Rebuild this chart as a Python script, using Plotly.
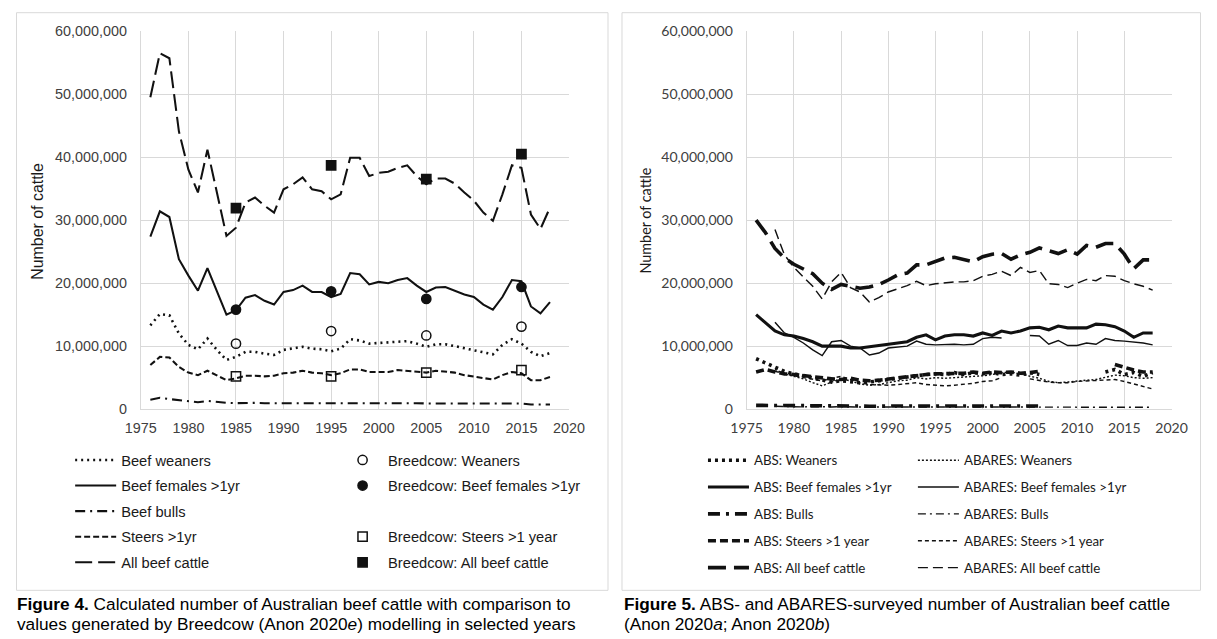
import plotly.graph_objects as go

# ---------------- data (millions of head) ----------------
years = list(range(1976, 2019))

# Figure 4 (calculated)
calc_weaners = [13.3, 15.1, 14.9, 12.0, 10.2, 9.5, 11.2, 9.4, 7.8, 8.3,
                9.1, 9.1, 8.8, 8.6, 9.4, 9.6, 9.9, 9.6, 9.5, 9.2,
                9.6, 11.1, 10.9, 10.4, 10.5, 10.6, 10.8, 10.8, 10.4, 9.9,
                10.3, 10.3, 10.0, 9.7, 9.4, 9.0, 8.7, 10.2, 11.1, 10.4,
                9.1, 8.4, 8.9]
calc_females = [27.4, 31.4, 30.5, 23.8, 21.2, 18.8, 22.4, 18.8, 15.0, 15.7,
                17.7, 18.1, 17.2, 16.6, 18.6, 18.9, 19.6, 18.6, 18.6, 17.8,
                18.3, 21.6, 21.4, 19.8, 20.2, 20.0, 20.5, 20.8, 19.6, 18.6,
                19.3, 19.4, 18.8, 18.2, 17.8, 16.6, 15.8, 17.8, 20.5, 20.3,
                16.3, 15.2, 17.0]
calc_bulls = [1.5, 1.8, 1.6, 1.4, 1.2, 1.1, 1.3, 1.1, 1.0, 0.95,
              1.0, 1.0, 0.95, 0.95, 1.0, 1.0, 1.05, 1.0, 1.0, 0.95,
              1.0, 1.05, 1.05, 1.0, 1.0, 1.0, 1.05, 1.0, 0.95, 0.9,
              0.9, 0.9, 0.9, 0.85, 0.85, 0.8, 0.8, 0.85, 0.9, 0.9,
              0.75, 0.7, 0.75]
calc_steers = [7.0, 8.3, 8.2, 6.7, 5.8, 5.4, 6.1, 5.3, 4.6, 4.9,
               5.3, 5.3, 5.2, 5.3, 5.7, 5.8, 6.1, 5.8, 5.7, 5.4,
               5.7, 6.3, 6.3, 5.9, 5.9, 5.9, 6.2, 6.1, 5.9, 5.8,
               6.1, 5.9, 5.8, 5.4, 5.2, 4.9, 4.7, 5.4, 5.9, 5.7,
               4.6, 4.6, 5.1]
calc_all = [49.5, 56.5, 55.7, 44.1, 38.0, 34.4, 41.2, 34.4, 27.5, 28.8,
            32.8, 33.6, 32.3, 31.2, 34.9, 35.7, 36.8, 34.9, 34.6, 33.3,
            34.1, 39.9, 39.9, 37.0, 37.5, 37.7, 38.3, 38.7, 37.0, 35.7,
            36.6, 36.6, 35.8, 34.4, 33.1, 31.2, 29.9, 34.1, 38.7, 38.3,
            30.9, 28.6, 32.0]

bc_years = [1985, 1995, 2005, 2015]
bc_weaners = [10.4, 12.4, 11.7, 13.1]
bc_females = [15.8, 18.7, 17.5, 19.4]
bc_steers = [5.2, 5.2, 5.8, 6.2]
bc_all = [31.9, 38.7, 36.5, 40.5]

# Figure 5 (surveyed)
N = None
abs_weaners = [8.0, 7.3, 6.7, 6.0, 5.6, 5.3, 5.0, 4.7, 4.3, 4.5,
               4.3, 4.2, 4.3, 4.5, 4.8, 5.0, 5.2, 5.4, 5.5, 5.6,
               5.5, 5.8, 5.5, 5.8, 5.6, 5.8, 5.5, 5.6, 5.4, 5.8,
               5.5, N, N, N, N, N, N, 5.9, 6.3, 5.5,
               5.8, 5.2, 5.8]
abs_females = [15.0, 13.7, 12.4, 11.8, 11.6, 11.2, 10.7, 10.0, 10.0, 10.0,
               9.7, 9.7, 9.9, 10.1, 10.4, 10.6, 10.7, 11.4, 11.8, 11.0,
               11.6, 11.8, 11.8, 11.6, 12.1, 11.7, 12.4, 12.1, 12.4, 12.9,
               13.0, 12.6, 13.2, 12.9, 12.9, 12.9, 13.5, 13.4, 13.1, 12.4,
               11.4, 12.1, 12.1]
abs_bulls = [0.6, 0.6, 0.5, 0.5, 0.5, 0.6, 0.5, 0.5, 0.5, 0.5,
             0.5, 0.5, 0.45, 0.5, 0.55, 0.5, 0.5, 0.5, 0.5, 0.55,
             0.5, 0.5, 0.5, 0.5, 0.5, 0.6, 0.5, 0.5, 0.55, 0.55,
             0.5, N, N, N, N, N, N, N, N, N,
             N, N, N]
abs_steers = [5.9, 6.3, 5.9, 5.6, 5.5, 5.3, 5.2, 5.0, 4.8, 4.7,
              4.9, 4.6, 4.5, 4.6, 4.8, 5.0, 5.2, 5.4, 5.5, 5.6,
              5.6, 5.7, 5.7, 5.9, 5.7, 5.9, 5.8, 5.9, 5.7, 5.8,
              6.0, N, N, N, N, N, N, N, 7.1, 6.6,
              6.2, 5.9, 5.9]
abs_all = [30.0, 28.0, 25.5, 24.0, 23.0, 22.3, 21.5, 20.0, 19.0, 19.8,
           19.5, 19.2, 19.4, 19.8, 20.5, 21.3, 21.6, 22.9, 22.9, 23.4,
           24.0, 24.1, 23.7, 23.4, 24.2, 24.6, 24.7, 23.8, 24.5, 24.9,
           25.6, 25.2, 24.7, 25.3, 24.6, 26.0, 25.7, 26.3, 26.3, 24.6,
           22.3, 23.7, 23.7]

abares_weaners = [N, N, 6.3, 5.6, 5.2, 4.8, 4.2, 3.7, 4.3, 4.8,
                  4.5, 4.0, 3.8, 3.9, 4.2, 4.5, 4.6, 5.0, 4.8, 5.0,
                  4.9, 5.0, 5.0, 5.1, 5.3, 5.5, 5.8, 5.9, 5.6, 5.3,
                  4.9, 4.4, 4.2, 4.3, 4.5, 4.6, 4.7, 5.0, 5.4, 5.3,
                  5.0, 4.9, 5.0]
abares_females = [N, N, 13.8, 12.1, 11.4, 10.5, 9.4, 8.5, 10.7, 10.9,
                  10.0, 9.7, 8.6, 8.9, 9.7, 9.8, 10.0, 10.8, 10.3, 10.2,
                  10.3, 10.3, 10.2, 10.3, 11.2, 11.4, 11.3, N, N, 11.7,
                  11.6, 10.3, 10.9, 10.1, 10.1, 10.5, 10.3, 11.2, 10.9, 10.8,
                  10.7, 10.5, 10.2]
abares_bulls = [N, N, 0.45, 0.4, 0.4, 0.35, 0.4, 0.35, 0.35, 0.4,
                0.35, 0.35, 0.3, 0.35, 0.4, 0.35, 0.35, 0.35, 0.35, 0.4,
                0.35, 0.35, 0.35, 0.35, 0.4, 0.4, 0.35, 0.35, 0.4, 0.35,
                0.3, 0.3, 0.3, 0.3, 0.3, 0.3, 0.3, 0.3, 0.3, 0.3,
                0.3, 0.3, 0.3]
abares_steers = [N, N, 6.0, 5.6, 5.3, 5.0, 4.8, 4.5, 4.9, 5.2,
                 4.7, 4.2, 3.9, 3.8, 3.8, 3.9, 4.0, 4.2, 3.9, 3.8,
                 3.7, 3.8, 3.9, 4.1, 4.4, 4.5, 5.0, N, N, 4.8,
                 4.5, 4.3, 4.2, 4.2, 4.4, 4.5, 4.6, 4.6, 4.7, 4.4,
                 4.0, 3.6, 3.2]
abares_all = [N, N, 28.5, 24.5, 22.5, 21.0, 19.5, 17.5, 20.2, 21.7,
              19.3, 18.6, 17.0, 17.7, 18.6, 19.1, 19.6, 20.3, 19.6, 19.9,
              20.1, 20.2, 20.2, 20.4, 21.1, 21.4, 21.9, 21.2, 22.5, 21.7,
              22.0, 19.9, 19.8, 19.3, 20.0, 20.6, 20.4, 21.2, 21.1, 20.4,
              19.9, 19.5, 18.9]

x_ticks = [1975, 1980, 1985, 1990, 1995, 2000, 2005, 2010, 2015, 2020]
y_ticks = [0, 10e6, 20e6, 30e6, 40e6, 50e6, 60e6]


def heads(v):
    return [None if a is None else a * 1e6 for a in v]


# ---------------- figure ----------------
W, H = 1217, 639
K = 1.0267          # layout scale about the page centre
ARIAL = "Liberation Sans, Arial, sans-serif"
CALI = "Lato, Open Sans, sans-serif"
INK = "#111111"

fig = go.Figure()


def tx(p):
    return W / 2 + (p - W / 2) * K


def ty(p):
    return H / 2 + (p - H / 2) * K


def px_x(p, clamp=True):
    v = tx(p)
    if clamp:
        v = min(max(v, 0.5), W - 0.5)
    return v / W


def px_y(p):
    return 1 - min(max(ty(p), 0.5), H - 0.5) / H


def line_trace(y, name, dash, width, xa, ya, legend, group):
    return go.Scatter(x=years, y=heads(y), name=name, mode="lines",
                      line=dict(color=INK, width=width * K, dash=dash),
                      connectgaps=False, xaxis=xa, yaxis=ya,
                      legend=legend, legendgroup=group, hoverinfo="skip")


def marker_trace(y, name, symbol, legend, group):
    return go.Scatter(x=bc_years, y=heads(y), name=name, mode="markers",
                      marker=dict(symbol=symbol, size=9 * K, color=INK,
                                  line=dict(color=INK, width=1.5)),
                      xaxis="x", yaxis="y", legend=legend,
                      legendgroup=group, hoverinfo="skip")


# left panel lines
fig.add_trace(line_trace(calc_weaners, "Beef weaners", "2px,4px", 2.5, "x", "y", "legend", "a1"))
fig.add_trace(line_trace(calc_females, "Beef females >1yr", "solid", 2, "x", "y", "legend", "a2"))
fig.add_trace(line_trace(calc_bulls, "Beef bulls", "10px,5px,2px,5px", 2, "x", "y", "legend", "a3"))
fig.add_trace(line_trace(calc_steers, "Steers >1yr", "6px,3px", 2, "x", "y", "legend", "a4"))
fig.add_trace(line_trace(calc_all, "All beef cattle", "17px,6px", 2, "x", "y", "legend", "a5"))

# Breedcow markers
fig.add_trace(marker_trace(bc_weaners, "Breedcow: Weaners", "circle-open", "legend2", "b1"))
fig.add_trace(marker_trace(bc_females, "Breedcow: Beef females >1yr", "circle", "legend2", "b2"))
fig.add_trace(go.Scatter(x=[None], y=[None], name=" ", mode="lines",
                         line=dict(width=0, color="rgba(0,0,0,0)"),
                         xaxis="x", yaxis="y",
                         legend="legend2", legendgroup="b3", hoverinfo="skip"))
fig.add_trace(marker_trace(bc_steers, "Breedcow: Steers >1 year", "square-open", "legend2", "b4"))
fig.add_trace(marker_trace(bc_all, "Breedcow: All beef cattle", "square", "legend2", "b5"))

# right panel
fig.add_trace(line_trace(abs_weaners, "ABS: Weaners", "3px,4px", 3.5, "x2", "y2", "legend3", "c1"))
fig.add_trace(line_trace(abs_females, "ABS: Beef females >1yr", "solid", 3, "x2", "y2", "legend3", "c2"))
fig.add_trace(line_trace(abs_bulls, "ABS: Bulls", "12px,6px,3px,6px", 3.5, "x2", "y2", "legend3", "c3"))
fig.add_trace(line_trace(abs_steers, "ABS: Steers >1 year", "8px,4px", 3.5, "x2", "y2", "legend3", "c4"))
fig.add_trace(line_trace(abs_all, "ABS: All beef cattle", "18px,8px", 3.5, "x2", "y2", "legend3", "c5"))

fig.add_trace(line_trace(abares_weaners, "ABARES: Weaners", "2px,2px", 1.4, "x2", "y2", "legend4", "d1"))
fig.add_trace(line_trace(abares_females, "ABARES: Beef females >1yr", "solid", 1.4, "x2", "y2", "legend4", "d2"))
fig.add_trace(line_trace(abares_bulls, "ABARES: Bulls", "8px,4px,2px,4px", 1.4, "x2", "y2", "legend4", "d3"))
fig.add_trace(line_trace(abares_steers, "ABARES: Steers >1 year", "4px,3px", 1.4, "x2", "y2", "legend4", "d4"))
fig.add_trace(line_trace(abares_all, "ABARES: All beef cattle", "10px,5px", 1.4, "x2", "y2", "legend4", "d5"))

GRID = "#d9d9d9"
ydom = [px_y(408.7), px_y(30.5)]


def xaxis_cfg(dom, anchor, fam, size):
    return dict(domain=dom, anchor=anchor, range=[1975, 2020], tickvals=x_ticks,
                showgrid=True, gridcolor=GRID, gridwidth=1, zeroline=False,
                showline=True, linecolor=GRID, linewidth=1, ticks="",
                tickfont=dict(family=fam, size=size * K, color="#404040"),
                ticklabelstandoff=round(6 * K), fixedrange=True)


def yaxis_cfg(anchor, fam, size):
    return dict(domain=ydom, anchor=anchor, range=[0, 60e6], tickvals=y_ticks,
                tickformat=",.0f", showgrid=True, gridcolor=GRID, gridwidth=1,
                zeroline=False, showline=True, linecolor=GRID, linewidth=1,
                ticks="", tickfont=dict(family=fam, size=size * K, color="#404040"),
                ticklabelstandoff=round(10 * K), fixedrange=True)


def legend_cfg(x, ytop, fam, size, gap):
    return dict(x=px_x(x), y=px_y(ytop), xanchor="left", yanchor="top",
                orientation="v", bgcolor="rgba(0,0,0,0)", borderwidth=0,
                font=dict(family=fam, size=size * K, color="#1a1a1a"),
                itemwidth=41, tracegroupgap=gap, traceorder="grouped")


fig.update_layout(
    width=W, height=H, autosize=False,
    margin=dict(l=0, r=0, t=0, b=0),
    paper_bgcolor="white", plot_bgcolor="white",
    xaxis=xaxis_cfg([px_x(140.7), px_x(569)], "y", ARIAL, 14),
    yaxis=yaxis_cfg("x", ARIAL, 14),
    xaxis2=xaxis_cfg([px_x(746.7), px_x(1171.7)], "y2", CALI, 13.7),
    yaxis2=yaxis_cfg("x2", CALI, 13.7),
    legend=legend_cfg(70, 443.5, ARIAL, 14.3, 3.5),
    legend2=legend_cfg(337, 443.5, ARIAL, 14.3, 3.5),
    legend3=legend_cfg(703, 444.6, CALI, 13, 6.5),
    legend4=legend_cfg(913, 444.6, CALI, 13, 6.5),
    showlegend=True,
)

# panel frames
fig.add_shape(type="rect", xref="paper", yref="paper",
              x0=px_x(14), x1=px_x(608), y0=px_y(590), y1=px_y(12),
              line=dict(color=GRID, width=1), layer="below")
fig.add_shape(type="rect", xref="paper", yref="paper",
              x0=px_x(622), x1=px_x(1207), y0=px_y(590), y1=px_y(12),
              line=dict(color=GRID, width=1), layer="below")

# axis titles
fig.add_annotation(text="Number of cattle", xref="paper", yref="paper",
                   x=px_x(37), y=px_y(221), textangle=-90, showarrow=False,
                   xanchor="center", yanchor="middle",
                   font=dict(family=ARIAL, size=15.5 * K, color="#1a1a1a"))
fig.add_annotation(text="Number of cattle", xref="paper", yref="paper",
                   x=px_x(646), y=px_y(220), textangle=-90, showarrow=False,
                   xanchor="center", yanchor="middle",
                   font=dict(family=CALI, size=14 * K, color="#1a1a1a"))

# captions
cap_font = dict(family=ARIAL, size=16.8 * K, color="#000000")
captions = [
    (15, 604, "<b>Figure 4.</b> Calculated number of Australian beef cattle with comparison to"),
    (15, 624, "values generated by Breedcow (Anon 2020<i>e</i>) modelling in selected years"),
    (622, 604, "<b>Figure 5.</b> ABS- and ABARES-surveyed number of Australian beef cattle"),
    (622, 624, "(Anon 2020<i>a</i>; Anon 2020<i>b</i>)"),
]
for cx, cy, txt in captions:
    fig.add_annotation(text=txt, xref="paper", yref="paper", x=px_x(cx, clamp=False),
                       y=px_y(cy), xanchor="left", yanchor="middle",
                       showarrow=False, font=cap_font)

page_fix = (
    "var s=document.createElement('style');"
    "s.textContent='html,body{margin:0!important;padding:0!important;"
    "overflow:hidden;width:1217px;height:639px;}"
    "body>div{margin:0;padding:0;line-height:0;font-size:0;}';"
    "document.head.appendChild(s);"
)
fig.write_html("out.html", config={"displayModeBar": False}, post_script=page_fix)
